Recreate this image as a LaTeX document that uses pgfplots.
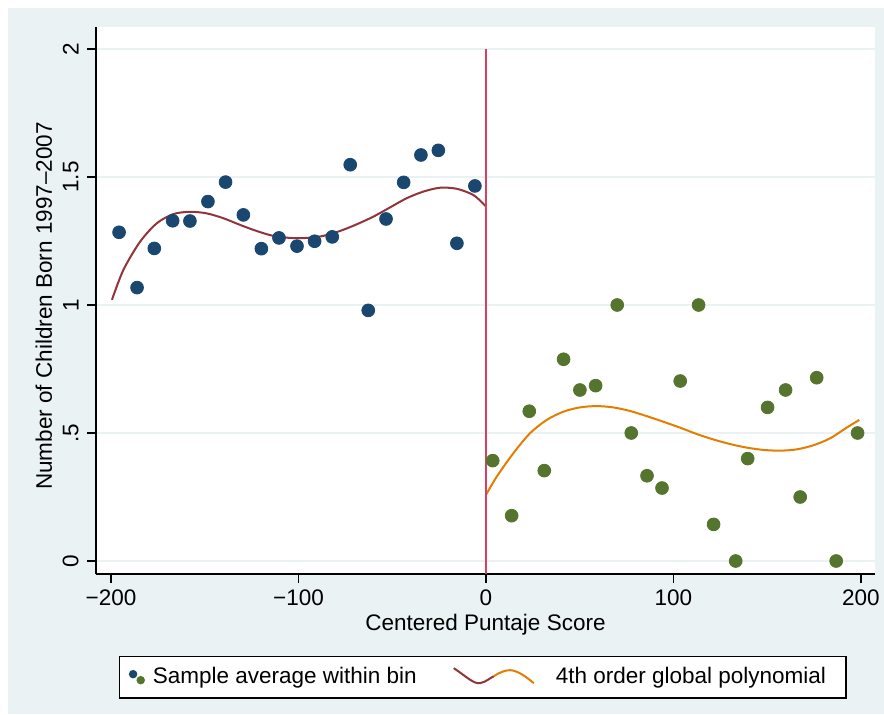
\documentclass[border=0pt]{standalone}
\usepackage{fontspec}
\setmainfont{Liberation Sans}
\usepackage{pgfplots}
\pgfplotsset{compat=1.18}

\definecolor{bgcol}{HTML}{EAF2F3}
\definecolor{gridcol}{HTML}{EAF2F3}
\definecolor{navy}{HTML}{1A476F}
\definecolor{maroon}{HTML}{90353B}
\definecolor{fgreen}{HTML}{55752F}
\definecolor{dkorange}{HTML}{E37E00}
\definecolor{xred}{HTML}{D9405F}

\begin{document}
\fontsize{11.25}{13.5}\selectfont
\begin{tikzpicture}
\useasboundingbox (0,0) rectangle (442pt,357pt);
\fill[bgcol] (4pt,0) rectangle (442pt,353pt);
\begin{axis}[
  at={(48pt,70pt)}, anchor=south west,
  scale only axis, width=389.5pt, height=273.5pt,
  xmin=-208, xmax=207.5, ymin=-0.0508, ymax=2.0859,
  axis x line*=bottom, axis y line*=left,
  axis line style={black, line width=0.6pt, -},
  axis background/.style={fill=white},
  xtick={-200,-100,0,100,200},
  xticklabels={−200,−100,0,100,200},
  ytick={0,0.5,1,1.5,2},
  yticklabels={0,.5,1,1.5,2},
  tick align=outside, major tick length=4.5pt,
  tick style={black, line width=0.6pt},
  ymajorgrids, grid style={gridcol, line width=0.9pt},
  yticklabel style={rotate=90, anchor=south, inner sep=0pt, yshift=4pt},
  xticklabel style={inner sep=0pt, yshift=-3pt},
  xlabel={Centered Puntaje Score},
  xlabel style={at={(axis description cs:0.5,-0.1024)}, anchor=base},
  ylabel={Number of Children Born 1997–2007},
  ylabel style={at={(axis description cs:-0.0565,0.49)}, anchor=base, rotate=0},
  legend style={at={(axis description cs:0.0299,-0.1494)}, anchor=north west,
    draw=black, fill=white, line width=0.6pt, inner xsep=4.5pt, inner ysep=3.5pt,
    nodes={inner xsep=0pt},
    /tikz/every odd column/.append style={column sep=4pt},
    /tikz/every even column/.append style={column sep=18pt}},
  legend columns=2, legend cell align=left,
  clip=false,
]
\addplot[only marks, mark=*, mark size=3.2pt, color=navy,
  legend image code/.code={
    \fill[navy] (1.8pt,1.5pt) circle (1.8pt);
    \fill[fgreen] (5.6pt,-1.5pt) circle (1.8pt);
  }] coordinates {
  (-195.7,1.284) (-186.1,1.068) (-176.9,1.221) (-167.1,1.329) (-157.9,1.328)
  (-148.3,1.404) (-138.9,1.480) (-129.4,1.352) (-119.8,1.220) (-110.4,1.262)
  (-100.8,1.230) (-91.4,1.249) (-82.0,1.266) (-72.4,1.548) (-62.8,0.979)
  (-53.3,1.336) (-43.9,1.479) (-34.7,1.586) (-25.4,1.604) (-15.5,1.241)
  (-5.9,1.465)
};
\addlegendentry{Sample average within bin}
\addplot[forget plot, only marks, mark=*, mark size=3.2pt, color=fgreen] coordinates {
  (3.6,0.392) (13.7,0.177) (23.1,0.585) (31.1,0.353) (41.4,0.788)
  (50.1,0.668) (58.5,0.685) (70.0,1.000) (77.5,0.500) (85.9,0.333)
  (93.9,0.285) (103.6,0.703) (113.4,1.000) (121.4,0.143) (133.2,0.000)
  (139.6,0.400) (150.2,0.600) (159.8,0.668) (167.6,0.250) (176.4,0.716)
  (186.8,0.000) (198.2,0.500)
};
\addplot[smooth, no marks, color=maroon, line width=1pt,
  legend image code/.code={
    \draw[maroon, line width=1pt] (0pt,4.5pt) .. controls (6pt,0.5pt) and (10pt,-3.5pt) .. (13pt,-3pt) .. controls (16pt,-2.5pt) and (18pt,-0.5pt) .. (20pt,0.5pt);
    \draw[dkorange, line width=1pt] (20pt,0.5pt) .. controls (23pt,2.5pt) and (26pt,3.5pt) .. (28pt,3.5pt) .. controls (32pt,3.5pt) and (37pt,-0.5pt) .. (40pt,-3pt);
  }] coordinates {
  (-199.5,1.020) (-193.4,1.137) (-184.5,1.247) (-175.6,1.319) (-166.8,1.355)
  (-157.9,1.364) (-149.0,1.358) (-140.1,1.339) (-131.2,1.313) (-122.3,1.289)
  (-113.4,1.270) (-104.5,1.262) (-95.6,1.262) (-86.8,1.270) (-77.9,1.289)
  (-69.0,1.315) (-60.1,1.345) (-51.2,1.381) (-42.3,1.417) (-33.4,1.443)
  (-24.5,1.458) (-15.6,1.454) (-6.8,1.430) (-1.4,1.395) (0,1.385)
};
\addlegendentry{\hspace{6.5pt}4th order global polynomial\rule{5.5pt}{0pt}}
\addplot[forget plot, smooth, no marks, color=dkorange, line width=1pt] coordinates {
  (0,0.258) (5.7,0.329) (14.6,0.421) (23.5,0.499) (32.4,0.551)
  (41.2,0.583) (50.1,0.600) (59.0,0.605) (67.9,0.600) (76.8,0.586)
  (85.7,0.566) (94.6,0.544) (103.5,0.521) (112.4,0.496) (121.2,0.475)
  (130.1,0.457) (139.0,0.443) (147.9,0.434) (156.8,0.431) (165.7,0.436)
  (174.6,0.452) (183.5,0.479) (192.4,0.521) (199.1,0.551)
};
\addplot[forget plot, no marks, color=xred, line width=1pt] coordinates {(0,-0.0508) (0,2)};
\end{axis}
\end{tikzpicture}
\end{document}
